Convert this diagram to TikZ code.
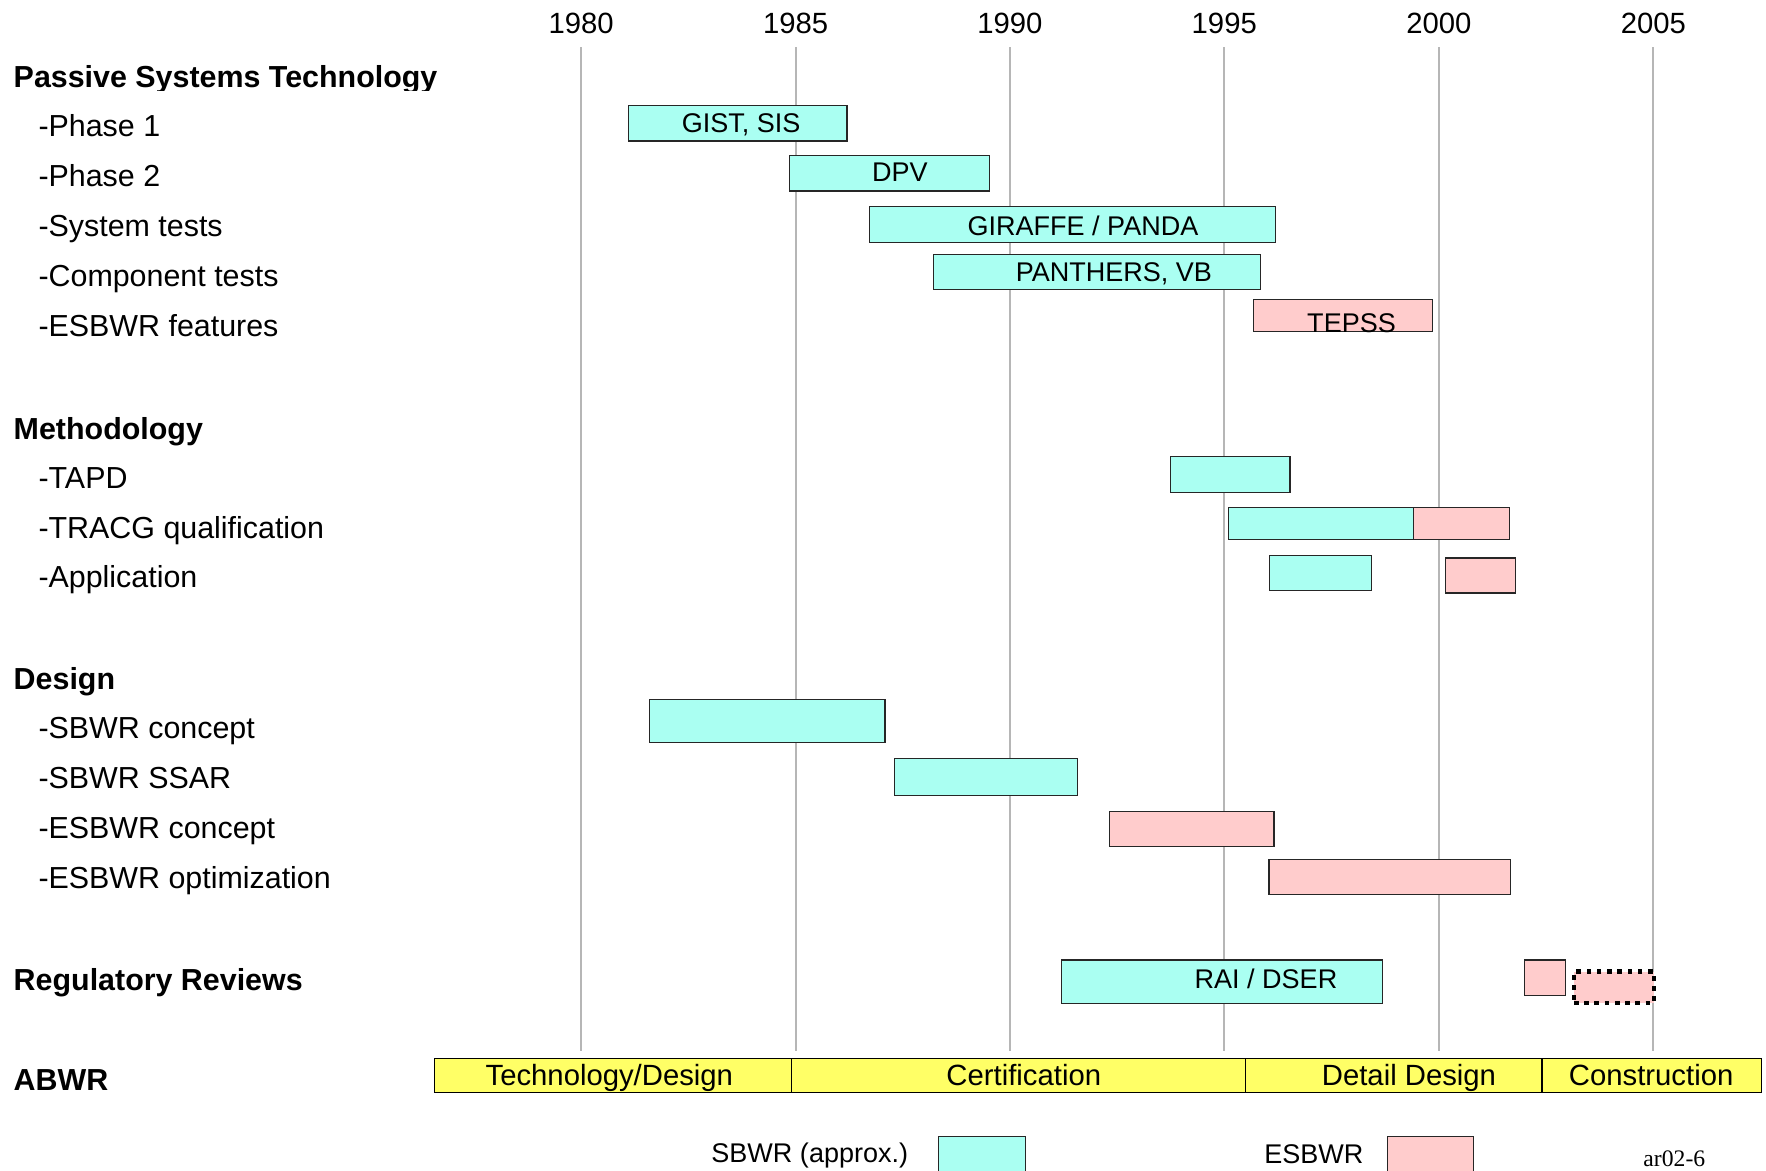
\documentclass[tikz,border=0pt]{standalone}
\usepackage{fontspec}
\setmainfont{Liberation Sans}
\newfontfamily\idfont{Liberation Serif}
\usetikzlibrary{fit}
\definecolor{sbwrc}{RGB}{170,255,242}
\definecolor{esbwrc}{RGB}{255,204,204}
\definecolor{abwrc}{RGB}{255,255,102}
\definecolor{gridc}{RGB}{182,182,182}
\begin{document}
\begin{tikzpicture}[x=1pt,y=-1pt,
  box/.style={draw=black!85, line width=1pt, inner sep=0pt, outer sep=0pt},
  sb/.style={box, fill=sbwrc},
  es/.style={box, fill=esbwrc},
  ab/.style={draw=black, line width=1.1pt, fill=abwrc, inner sep=0pt, outer sep=0pt},
  headtxt/.style={anchor=base west, inner sep=0pt, font=\fontsize{27}{32}\selectfont\bfseries},
  itemtxt/.style={anchor=base west, inner sep=0pt, font=\fontsize{27}{32}\selectfont},
  yeartxt/.style={anchor=base, inner sep=0pt, font=\fontsize{26}{32}\selectfont},
  bartxt/.style={anchor=base, inner sep=0pt, font=\fontsize{24}{28}\selectfont},
  abtxt/.style={anchor=base, inner sep=0pt, font=\fontsize{26}{30}\selectfont},
  legtxt/.style={anchor=base, inner sep=0pt, font=\fontsize{24}{28}\selectfont},
  gridline/.style={draw=gridc, line width=1.8pt}
]
\useasboundingbox (0,0) rectangle (1568,1039);
\fill[white] (0,0) rectangle (1568,1039);

% years and grid
\foreach \yr/\xx in {1980/516,1985/706.5,1990/896.6,1995/1087,2000/1277.6,2005/1468}{
  \node[yeartxt] (yr\yr) at (\xx,30) {\yr};
  \coordinate (gt\yr) at (\xx,42);
  \coordinate (gb\yr) at (\xx,933);
  \draw[gridline] (gt\yr) -- (gb\yr);
}

% left labels
\begin{scope}
  \clip (0,40) rectangle (600,80.5);
  \node[headtxt] (pst) at (12,77.5) {Passive Systems Technology};
\end{scope}
\node[itemtxt] (ph1) at (34,121.5) {-Phase 1};
\node[itemtxt] (ph2) at (34,165.8) {-Phase 2};
\node[itemtxt] (syst) at (34,210.2) {-System tests};
\node[itemtxt] (compt) at (34,254.6) {-Component tests};
\node[itemtxt] (esbf) at (34,299) {-ESBWR features};
\node[headtxt] (meth) at (12,390) {Methodology};
\node[itemtxt] (tapd) at (34,433.8) {-TAPD};
\node[itemtxt] (tracg) at (34,477.8) {-TRACG qualification};
\node[itemtxt] (appl) at (34,522) {-Application};
\node[headtxt] (des) at (12,612.6) {Design};
\node[itemtxt] (sbc) at (34,656) {-SBWR concept};
\node[itemtxt] (sbs) at (34,700.2) {-SBWR SSAR};
\node[itemtxt] (esc) at (34,744.5) {-ESBWR concept};
\node[itemtxt] (eso) at (34,789) {-ESBWR optimization};
\node[headtxt] (reg) at (12,879.5) {Regulatory Reviews};
\node[headtxt] (abwr) at (12,968) {ABWR};

% Passive systems technology bars
\node[sb, fit={(558,94) (752,125.2)}] (gist) {};
\node[bartxt] (gistt) at (658,117.8) {GIST, SIS};
\node[sb, fit={(701,138.2) (878.3,169.6)}] (dpv) {};
\node[bartxt] (dpvt) at (799,161.5) {DPV};
\node[sb, fit={(771.7,183.6) (1132.1,215)}] (gir) {};
\node[bartxt] (girt) at (961.5,209) {GIRAFFE / PANDA};
\node[sb, fit={(828.8,226.2) (1119.3,257.4)}] (pan) {};
\node[bartxt] (pant) at (989,250) {PANTHERS, VB};
\node[es, fit={(1112.7,265.8) (1271.8,294.2)}] (tep) {};
\node[bartxt] (tept) at (1200,295) {TEPSS};

% Methodology bars
\node[sb, fit={(1039.4,405.5) (1145.3,437.1)}] (tapdb) {};
\node[sb, fit={(1090.6,450.5) (1255.1,478.8)}] (tracgs) {};
\node[es, fit={(1255.1,450.5) (1340.4,478.8)}] (tracge) {};
\node[sb, fit={(1127,493) (1217.5,524.1)}] (apps) {};
\node[es, fit={(1283.3,495.4) (1345.4,526.5)}] (appe) {};

% Design bars
\node[sb, fit={(576.9,620.9) (785.8,659)}] (sbcb) {};
\node[sb, fit={(794.3,673.3) (956.9,706.5)}] (sbsb) {};
\node[es, fit={(985.2,720.4) (1131.2,751.4)}] (escb) {};
\node[es, fit={(1126.7,763) (1341.3,794.4)}] (esob) {};

% Regulatory reviews
\node[sb, fit={(942.2,852.3) (1227.1,890.8)}] (rai) {};
\node[bartxt] (rait) at (1124,877.5) {RAI / DSER};
\node[es, fit={(1353.6,852.3) (1389.7,883.7)}] (rev2) {};
\node[es, draw=black, line width=4pt, dash pattern=on 4.1pt off 5pt, fit={(1397.5,862.7) (1468.6,890.5)}] (rev3) {};

% ABWR bar
\node[ab, fit={(385.5,939.6) (703,969.8)}] (ab1) {};
\node[ab, fit={(703,939.6) (1105.8,969.8)}] (ab2) {};
\node[ab, fit={(1105.8,939.6) (1369.1,969.8)}] (ab3) {};
\node[ab, fit={(1369.1,939.6) (1564,969.8)}] (ab4) {};
\node[abtxt] (ab1t) at (541,964) {Technology/Design};
\node[abtxt] (ab2t) at (909,964) {Certification};
\node[abtxt] (ab3t) at (1251,964) {Detail Design};
\node[abtxt] (ab4t) at (1466,964) {Construction};

% legend
\node[legtxt] (legsbt) at (719,1032) {SBWR (approx.)};
\node[sb, fit={(833.1,1009.2) (910.5,1050)}] (legsb) {};
\node[legtxt] (legest) at (1166.5,1032.8) {ESBWR};
\node[es, fit={(1231.9,1009.2) (1308.4,1050)}] (leges) {};
\node[anchor=base west, inner sep=0pt, font=\idfont\fontsize{21}{24}\selectfont] (figid) at (1459,1036) {ar02-6};
\end{tikzpicture}
\end{document}
